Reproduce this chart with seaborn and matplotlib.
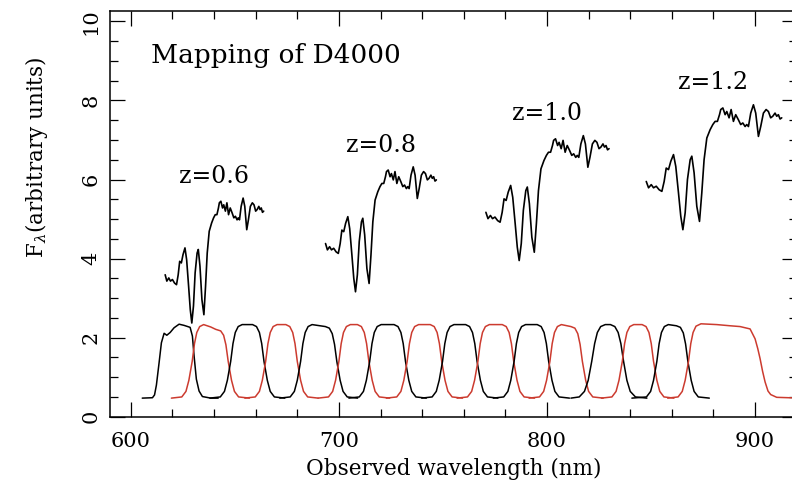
import numpy as np
import pandas as pd
import matplotlib
matplotlib.use("Agg")
import matplotlib.pyplot as plt
from matplotlib.ticker import MultipleLocator
import seaborn as sns

# Rest-frame galaxy template around the 4000 A break (nm, arbitrary flux)
REST_WL = [385.32, 385.82, 386.41, 386.91, 387.50, 388.14, 388.73, 389.23, 389.68, 390.18,
           390.68, 391.27, 391.77, 392.36, 392.86, 393.32, 393.82, 394.32, 394.91, 395.27,
           395.77, 396.36, 396.95, 397.45, 397.95, 398.55, 399.27, 399.86, 400.36, 400.86,
           401.32, 401.59, 402.05, 402.55, 402.91, 403.41, 403.86, 404.36, 404.86, 405.45,
           405.95, 406.41, 406.91, 407.27, 407.64, 408.14, 408.73, 409.23, 409.82, 410.32,
           410.91, 411.50, 412.00, 412.50, 412.95, 413.45, 413.82, 414.18, 414.55, 414.91]
REST_FLUX = [3.59, 3.43, 3.51, 3.43, 3.47, 3.38, 3.34, 3.59, 3.93, 3.89,
             4.10, 4.27, 3.97, 3.30, 2.71, 2.37, 2.80, 3.64, 4.14, 4.23,
             3.81, 2.96, 2.58, 3.30, 4.14, 4.69, 4.90, 5.03, 5.11, 5.11,
             5.28, 5.41, 5.45, 5.28, 5.36, 5.20, 5.41, 5.11, 5.28, 5.15,
             5.03, 5.07, 4.98, 5.03, 4.98, 5.32, 5.53, 5.32, 4.73, 4.98,
             5.32, 5.41, 5.36, 5.20, 5.24, 5.32, 5.24, 5.28, 5.17, 5.20]

REDSHIFTS = [0.6, 0.8, 1.0, 1.2]
FLUX_OFFSETS = [0.0, 0.79, 1.58, 2.36]
Z_LABELS = ["z=0.6", "z=0.8", "z=1.0", "z=1.2"]
Z_LABEL_Y = [5.91, 6.70, 7.50, 8.29]

# Medium-band filter transmission curves (observed nm, scaled transmission)
STD_RISE = [0.47, 0.50, 0.64, 0.92, 1.40, 1.85, 2.13, 2.28, 2.33]
STD_FALL = [2.33, 2.28, 2.13, 1.85, 1.40, 0.92, 0.64, 0.50, 0.47]

FILTER_WL = [
    [605.5, 610.4, 611.4, 612.3, 613.6, 614.7, 616.0, 617.3, 618.9, 620.8, 623.2, 625.6,
     628.5, 629.6, 630.4, 631.5, 632.8, 634.4, 638.4, 642.0],
    [619.5, 624.5, 626.5, 627.9, 629.5, 630.6, 631.7, 633.1, 635.0, 638.4, 640.8, 643.2,
     644.6, 645.7, 646.8, 648.4, 649.8, 651.8, 657.0],
    [638.0, 643.0, 645.0, 646.4, 648.0, 649.1, 650.2, 651.6, 653.5,
     658.5, 660.4, 661.8, 662.9, 664.0, 665.6, 667.0, 669.0, 674.0],
    [654.8, 659.8, 661.8, 663.2, 664.8, 665.9, 667.0, 668.4, 670.3,
     674.5, 676.4, 677.8, 678.9, 680.0, 681.6, 683.0, 685.0, 690.0],
    [671.6, 676.6, 678.6, 680.0, 681.6, 682.7, 683.8, 685.2, 687.1,
     693.5, 695.4, 696.8, 697.9, 699.0, 700.6, 702.0, 704.0, 709.0],
    [690.0, 695.0, 697.0, 698.4, 700.0, 701.1, 702.2, 703.6, 705.5,
     708.9, 710.8, 712.2, 713.3, 714.4, 716.0, 717.4, 719.4, 724.4],
    [704.8, 709.8, 711.8, 713.2, 714.8, 715.9, 717.0, 718.4, 720.3,
     726.5, 728.4, 729.8, 730.9, 732.0, 733.6, 735.0, 737.0, 742.0],
    [722.8, 727.8, 729.8, 731.2, 732.8, 733.9, 735.0, 736.4, 738.3,
     743.9, 745.8, 747.2, 748.3, 749.4, 751.0, 752.4, 754.4, 759.4],
    [739.8, 744.8, 746.8, 748.2, 749.8, 750.9, 752.0, 753.4, 755.3,
     760.9, 762.8, 764.2, 765.3, 766.4, 768.0, 769.4, 771.4, 776.4],
    [756.8, 761.8, 763.8, 765.2, 766.8, 767.9, 769.0, 770.4, 772.3,
     778.5, 780.4, 781.8, 782.9, 784.0, 785.6, 787.0, 789.0, 794.0],
    [774.2, 779.2, 781.2, 782.6, 784.2, 785.3, 786.4, 787.8, 789.7,
     795.3, 797.2, 798.6, 799.7, 800.8, 802.4, 803.8, 805.8, 810.8],
    [791.4, 796.4, 798.4, 799.8, 801.4, 802.5, 803.6, 805.0, 806.9,
     811.5, 813.4, 814.8, 815.9, 817.0, 818.6, 820.0, 822.0, 827.0],
    [811.5, 815.5, 818.0, 819.8, 821.5, 822.9, 824.2, 825.8, 828.0,
     830.5, 832.6, 834.2, 835.5, 836.8, 838.4, 840.0, 842.5, 848.0],
    [826.2, 831.2, 833.2, 834.6, 836.2, 837.3, 838.4, 839.8, 841.7,
     845.7, 847.6, 849.0, 850.1, 851.2, 852.8, 854.2, 856.2, 861.0],
    [840.8, 847.8, 849.8, 851.2, 852.8, 853.9, 855.0, 856.4, 858.3,
     862.2, 864.1, 865.5, 866.6, 867.7, 869.3, 870.7, 872.7, 878.0],
    [858.0, 863.0, 865.0, 866.4, 868.0, 869.1, 870.2, 871.6, 874.0, 881.6, 888.0,
     892.8, 897.6, 900.0, 901.3, 902.4, 903.6, 904.8, 906.2, 907.5, 910.4, 922.0],
]
FILTER_T = [
    [0.47, 0.48, 0.55, 0.80, 1.37, 1.87, 2.11, 2.06, 2.13, 2.25, 2.34, 2.31,
     2.26, 2.04, 1.54, 0.95, 0.65, 0.51, 0.47, 0.47],
    [0.47, 0.50, 0.64, 0.92, 1.40, 1.85, 2.13, 2.28, 2.33, 2.27, 2.21, 2.17,
     2.06, 1.82, 1.40, 0.92, 0.64, 0.50, 0.47],
    STD_RISE + STD_FALL,
    STD_RISE + STD_FALL,
    STD_RISE + [2.28, 2.24, 2.10, 1.83, 1.40, 0.92, 0.64, 0.50, 0.47],
    STD_RISE + STD_FALL,
    STD_RISE + STD_FALL,
    STD_RISE + STD_FALL,
    STD_RISE + STD_FALL,
    STD_RISE + STD_FALL,
    STD_RISE + STD_FALL,
    STD_RISE + [2.28, 2.24, 2.10, 1.83, 1.40, 0.92, 0.64, 0.50, 0.47],
    STD_RISE + STD_FALL,
    STD_RISE + STD_FALL,
    STD_RISE + [2.30, 2.26, 2.12, 1.84, 1.40, 0.92, 0.64, 0.50, 0.47],
    [0.47, 0.50, 0.64, 0.92, 1.40, 1.85, 2.13, 2.29, 2.35, 2.33, 2.30,
     2.28, 2.22, 1.97, 1.72, 1.47, 1.15, 0.88, 0.65, 0.56, 0.49, 0.47],
]
FILTER_COLORS = ["black", "red"] * 8

X_TICKS = [600, 700, 800, 900]
Y_TICKS = [0, 2, 4, 6, 8, 10]

RED = "#cc3b2f"

sns.set_theme(style="ticks")
plt.rcParams["font.family"] = ["DejaVu Serif"]
plt.rcParams["mathtext.fontset"] = "dejavuserif"
plt.rcParams["text.color"] = "black"
plt.rcParams["axes.labelcolor"] = "black"

fig = plt.figure(figsize=(7.92, 4.82), dpi=100)
ax = fig.add_axes([110 / 792, 1 - 416.7 / 482, 686.7 / 792, 406.0 / 482])

# filter curves
for wl, tr, c in zip(FILTER_WL, FILTER_T, FILTER_COLORS):
    df = pd.DataFrame({"wl": wl, "t": tr})
    sns.lineplot(data=df, x="wl", y="t", ax=ax, sort=False, estimator=None,
                 color=("black" if c == "black" else RED), lw=1.1, zorder=2)

# redshifted spectra
rest_wl = np.asarray(REST_WL)
rest_flux = np.asarray(REST_FLUX)
for z, off, lab, ly in zip(REDSHIFTS, FLUX_OFFSETS, Z_LABELS, Z_LABEL_Y):
    df = pd.DataFrame({"wl": rest_wl * (1 + z), "f": rest_flux + off})
    sns.lineplot(data=df, x="wl", y="f", ax=ax, sort=False, estimator=None,
                 color="black", lw=1.2, zorder=3)
    ax.text(400 * (1 + z), ly, lab, ha="center", va="baseline", fontsize=17,
            color="black")

ax.text(609.6, 8.95, "Mapping of D4000", ha="left", va="baseline", fontsize=19,
        color="black")

ax.set_xlim(590, 920)
ax.set_ylim(0, 10.27)
ax.set_xticks(X_TICKS)
ax.set_yticks(Y_TICKS)
ax.xaxis.set_minor_locator(MultipleLocator(20))
ax.yaxis.set_minor_locator(MultipleLocator(0.5))
ax.tick_params(which="both", direction="in", top=True, right=True,
               width=0.9, colors="black", labelsize=15)
ax.tick_params(which="major", length=10.8)
ax.tick_params(which="minor", length=5.8)
ax.tick_params(axis="x", which="major", pad=11)
ax.tick_params(axis="y", which="major", pad=7)
for lab in ax.get_yticklabels():
    lab.set_rotation(90)
    lab.set_va("center")
for sp in ax.spines.values():
    sp.set_linewidth(1.1)
    sp.set_color("black")

ax.set_xlabel("Observed wavelength (nm)", fontsize=15.5, labelpad=5, color="black")
ax.set_ylabel("")
fig.text(37 / 792, 1 - 157 / 482, r"F$_\lambda$(arbitrary units)", rotation=90,
         ha="center", va="center", fontsize=15.5, color="black")

fig.savefig("out.png", dpi=100)
